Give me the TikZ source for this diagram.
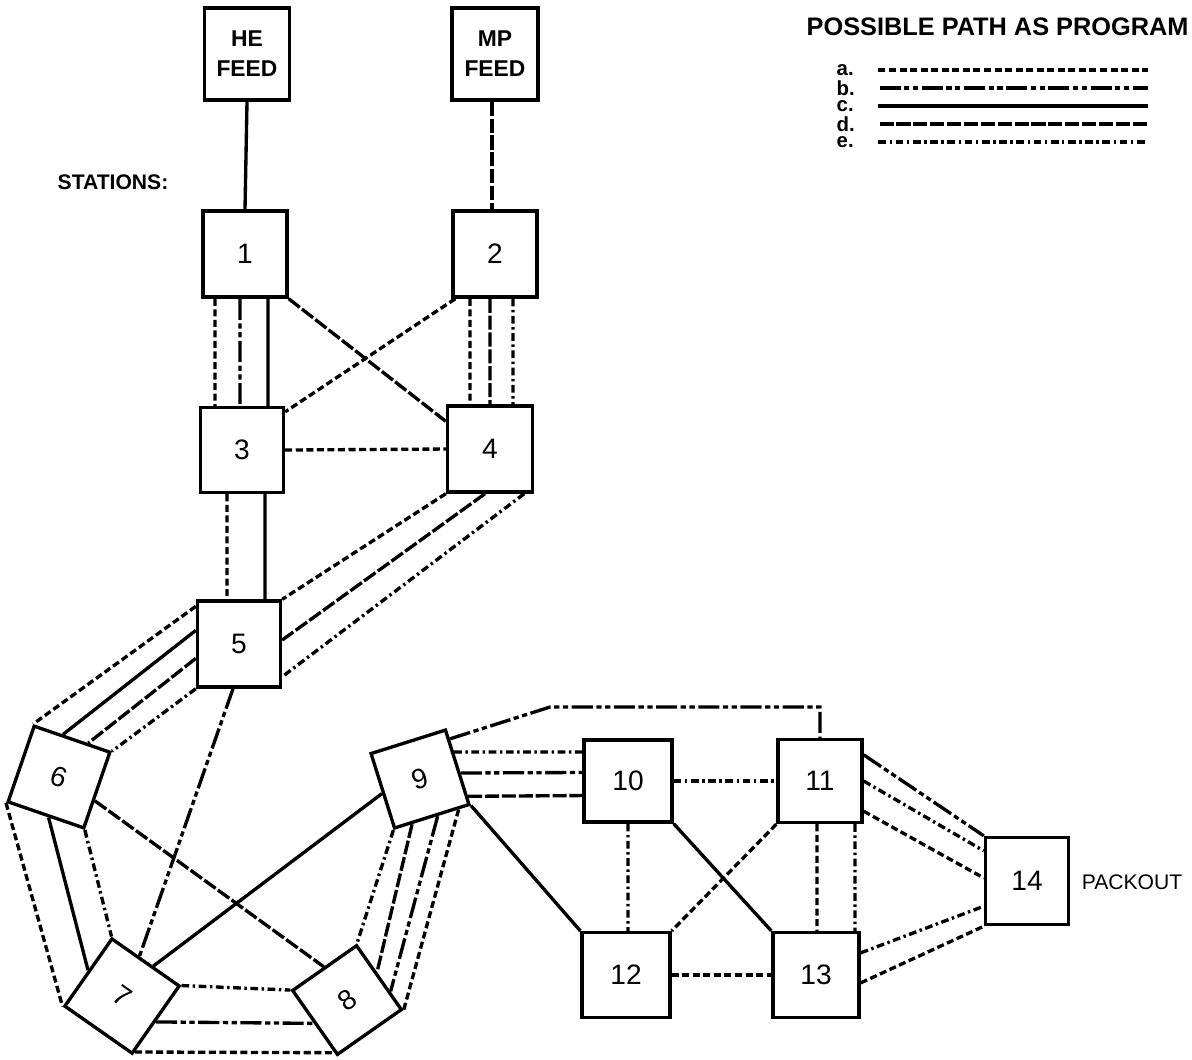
\documentclass[tikz,border=0pt]{standalone}
\usepackage{fontspec}
\setmainfont{Liberation Sans}
\usetikzlibrary{calc}

\tikzset{
  stn/.style = {draw, line width=0.95pt, minimum width=8.4mm, minimum height=8.6mm, inner sep=0pt, font=\fontsize{8}{9}\selectfont},
  feed/.style = {stn, minimum height=9.2mm, align=center, font=\fontsize{6.5}{8.5}\selectfont\bfseries},
  link/.style = {line width=0.95pt},
  patha/.style = {link, dash pattern=on 2pt off 1pt},
  pathb/.style = {link, dash pattern=on 6pt off 1pt on 1.5pt off 1pt on 1.5pt off 1pt},
  pathc/.style = {link},
  pathd/.style = {link, dash pattern=on 4pt off 0.8pt},
  pathe/.style = {link, dash pattern=on 2.2pt off 1pt on 0.7pt off 1pt},
}

\begin{document}
\begin{tikzpicture}[x=0.01cm, y=-0.01cm]
    \useasboundingbox (0,0) rectangle (1192,1059);

    % stations
    \node[feed, minimum width=8.5mm] (hefeed) at (247,54) {HE\\FEED};
    \node[feed, minimum width=8.6mm] (mpfeed) at (495,54) {MP\\FEED};
    \node[stn] (s1) at (245,254) {1};
    \node[stn] (s2) at (495,254) {2};
    \node[stn, minimum width=8.3mm, minimum height=8.5mm] (s3) at (242,450) {3};
    \node[stn, minimum width=8.5mm] (s4) at (490,449) {4};
    \node[stn, minimum width=8.3mm] (s5) at (239,644) {5};
    \node[stn, minimum size=8mm, rotate=-19] (s6) at (59,777) {6};
    \node[stn, minimum size=8.2mm, rotate=-35] (s7) at (122,996) {7};
    \node[stn, minimum size=7.8mm, rotate=35] (s8) at (347,1000) {8};
    \node[stn, minimum size=7.8mm, rotate=17.5] (s9) at (420,779) {9};
    \node[stn, minimum width=8.8mm, minimum height=8.2mm] (s10) at (628,781) {10};
    \node[stn, minimum height=8.3mm] (s11) at (820,781) {11};
    \node[stn, minimum width=8.8mm, minimum height=8.5mm] (s12) at (626,975) {12};
    \node[stn, minimum width=8.6mm, minimum height=8.5mm] (s13) at (816,975) {13};
    \node[stn, minimum width=8.3mm, minimum height=8.7mm] (s14) at (1027,881) {14};

    \node[font=\fontsize{6}{7}\selectfont\bfseries] (stations) at (113,182) {STATIONS:};
    \node[font=\fontsize{6}{7}\selectfont] (packout) at (1132,882) {PACKOUT};

    % legend
    \node[anchor=west, inner sep=0pt, font=\fontsize{7.2}{8}\selectfont\bfseries] (title) at (806,27) {POSSIBLE PATH AS PROGRAM};
    \foreach \k/\s/\y in {a/patha/70, b/pathb/88, c/pathc/106, d/pathd/124, e/pathe/142} {
        \node[anchor=west, inner sep=0pt, font=\fontsize{5.8}{6}\selectfont\bfseries] (l\k) at (836,\y) {\k.};
        \coordinate (r\k) at (1148,\y);
        \draw[\s] ([xshift=2.4mm]l\k.east) -- (r\k);
    }

    % feeds
    \draw[pathc] (hefeed.south) -- (s1.north);
    \draw[pathd] ([xshift=-0.3mm]mpfeed.south) -- ([xshift=-0.3mm]s2.north);

    % 1 and 2
    \draw[patha] ([xshift=-3mm]s1.south) -- ([xshift=-2.7mm]s3.north);
    \draw[pathb] ([xshift=-0.5mm]s1.south) -- ([xshift=-0.2mm]s3.north);
    \draw[pathc] ([xshift=2.3mm]s1.south) -- ([xshift=2.6mm]s3.north);
    \draw[pathd] (s1.south east) -- ([yshift=-1.7mm]s4.north west);
    \draw[patha] ([xshift=0.4mm]s2.south west) -- ([yshift=-0.6mm]s3.north east);
    \draw[patha] ([xshift=-2.5mm]s2.south) -- ([xshift=-2mm]s4.north);
    \draw[pathd] ([xshift=-0.5mm]s2.south) -- (s4.north);
    \draw[pathe] ([xshift=1.8mm]s2.south) -- ([xshift=2.3mm]s4.north);
    \draw[patha] (s3.east) -- (s4.west);

    % 3 and 4 to 5
    \draw[patha] ([xshift=-1.5mm]s3.south) -- ([xshift=-1.2mm]s5.north);
    \draw[pathc] ([xshift=2.3mm]s3.south) -- ([xshift=2.6mm]s5.north);
    \draw[patha] (s4.south west) -- (s5.north east);
    \draw[pathd] ([xshift=-0.5mm]s4.south) -- ([yshift=0.4mm]s5.east);
    \draw[pathe] ([xshift=-1mm]s4.south east) -- ([yshift=1.2mm]s5.south east);

    % 5 to 6 and 7
    \draw[patha] ([yshift=-0.7mm]s5.north west) -- (s6.north west);
    \draw[pathc] ([yshift=-3.1mm]s5.north west) -- ($(s6.north west)!0.38!(s6.north east)$);
    \draw[pathd] ([yshift=-5.9mm]s5.north west) -- ($(s6.north west)!0.7!(s6.north east)$);
    \draw[pathe] (s5.south west) -- (s6.north east);
    \draw[pathb] ([xshift=-0.6mm]s5.south) -- ($(s7.north west)!0.4!(s7.north east)$);

    % 6 to 7 and 8
    \draw[patha] (s6.south west) -- (s7.south west);
    \draw[pathc] ($(s6.south west)!0.54!(s6.south east)$) -- ($(s7.south west)!0.52!(s7.north west)$);
    \draw[pathe] (s6.south east) -- (s7.north west);
    \draw[pathd] ($(s6.north east)!0.63!(s6.south east)$) -- ($(s8.north west)!0.5!(s8.north east)$);

    % 7 to 8 and 9
    \draw[pathe] (s7.north east) -- (s8.north west);
    \draw[pathb] ($(s7.north east)!0.52!(s7.south east)$) -- ($(s8.north west)!0.5!(s8.south west)$);
    \draw[patha] ($(s7.north east)!0.95!(s7.south east)$) -- ($(s8.north west)!0.94!(s8.south west)$);
    \draw[pathc] ($(s7.north west)!0.6!(s7.north east)$) -- ($(s9.north west)!0.53!(s9.south west)$);

    % 8 to 9
    \draw[pathe] (s9.south west) -- (s8.north east);
    \draw[pathd] ($(s9.south west)!0.24!(s9.south east)$) -- ($(s8.north east)!0.43!(s8.south east)$);
    \draw[pathb] ($(s9.south west)!0.57!(s9.south east)$) -- ($(s8.north east)!0.72!(s8.south east)$);
    \draw[patha] ($(s9.south west)!0.84!(s9.south east)$) -- (s8.south east);

    % 9 onwards
    \draw[pathe] ($(s9.north east)!0.31!(s9.south east)$) -- ($(s10.north west)!0.16!(s10.south west)$);
    \draw[pathb] ($(s9.north east)!0.58!(s9.south east)$) -- ($(s10.north west)!0.4!(s10.south west)$);
    \draw[pathd] ($(s9.north east)!0.88!(s9.south east)$) -- ($(s10.north west)!0.67!(s10.south west)$);
    \draw[pathc] (s9.south east) -- (s12.north west);
    \coordinate (kink) at (550,707);
    \draw[pathb] ($(s9.north east)!0.14!(s9.south east)$) -- (kink) -- (kink -| s11.north) -- (s11.north);

    \draw[pathe] (s10.east) -- (s11.west);
    \draw[pathe] (s10.south) -- ([xshift=0.2mm]s12.north);
    \draw[pathc] (s10.south east) -- (s13.north west);
    \draw[patha] (s11.south west) -- (s12.north east);
    \draw[patha] ([xshift=-0.3mm]s11.south) -- ([xshift=0.1mm]s13.north);
    \draw[pathe] ([xshift=3.5mm]s11.south) -- ([xshift=3.9mm]s13.north);
    \draw[patha] (s12.east) -- (s13.west);

    % to packout
    \draw[pathb] ([yshift=-1.7mm]s11.north east) -- (s14.north west);
    \draw[pathe] (s11.east) -- ([yshift=-1.5mm]s14.north west);
    \draw[patha] ([yshift=1.3mm]s11.south east) -- ([yshift=0.3mm]s14.west);
    \draw[pathe] ([yshift=-2.2mm]s13.north east) -- ([yshift=2mm]s14.south west);
    \draw[patha] ([yshift=-5.2mm]s13.north east) -- (s14.south west);
\end{tikzpicture}
\end{document}
